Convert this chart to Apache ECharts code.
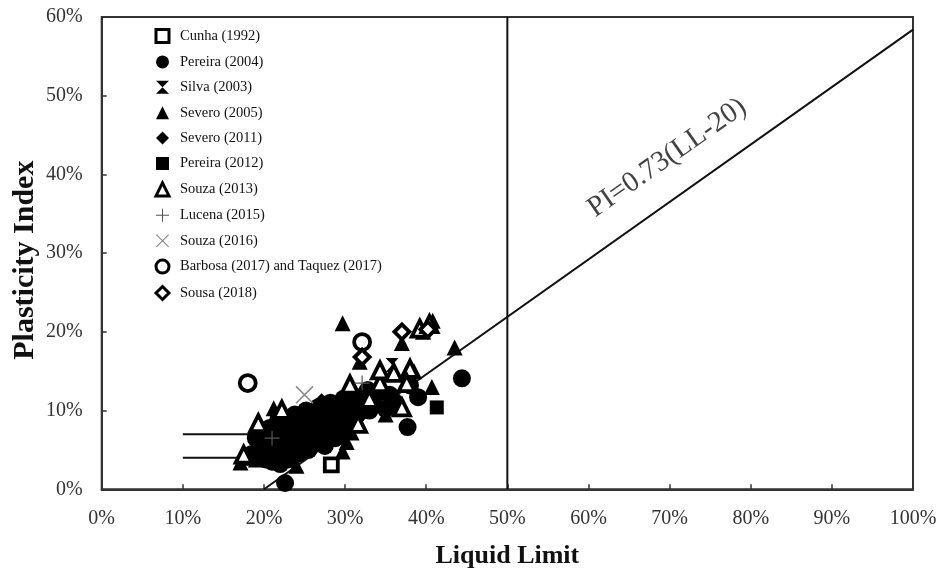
<!DOCTYPE html>
<html><head><meta charset="utf-8">
<script src="https://cdn.jsdelivr.net/npm/echarts@6/dist/echarts.min.js"></script>
<style>html,body{margin:0;padding:0;background:#fff}#c{width:941px;height:573px}</style>
</head><body><div id="c"></div>
<script>
// ---- data (x = Liquid Limit %, y = Plasticity Index %) ----
const xTicks = [0,10,20,30,40,50,60,70,80,90,100];
const yTicks = [0,10,20,30,40,50,60];
const seriesNames = ['Cunha (1992)','Pereira (2004)','Silva (2003)','Severo (2005)','Severo (2011)','Pereira (2012)','Souza (2013)','Lucena (2015)','Souza (2016)','Barbosa (2017) and Taquez (2017)','Sousa (2018)'];
const cunha1992 = [[28.3,3.1]];
const pereira2004 = [[22.6,0.8],[44.4,14.1],[37.7,7.9],[39.0,11.7],[35.0,10.2],[33.5,11.0],[32.5,11.8],[31.0,10.5],[30.0,9.8],[29.2,8.5],[28.5,8.0],[27.8,9.5],[27.0,7.0],[26.5,6.0],[25.5,5.0],[25.0,9.0],[24.5,7.5],[24.0,6.5],[23.5,8.5],[23.0,5.5],[22.5,6.8],[22.0,4.5],[20.7,7.8],[21.0,3.5],[20.5,5.5],[20.0,4.8],[26.0,8.5],[28.0,10.2],[29.5,7.2],[30.5,8.3],[31.5,9.5],[34.0,12.2],[36.0,11.2],[38.0,13.2],[33.0,10.0],[25.2,10.0],[24.2,4.5],[21.8,9.0],[24.8,8.8],[26.8,10.5],[19.5,5.0],[23.0,3.8],[27.5,5.5],[28.8,6.5],[19.0,6.5],[18.5,4.5],[20.0,7.0],[21.5,5.8],[22.8,7.5],[23.8,9.5],[25.8,7.0],[26.5,9.5],[28.2,11.0],[29.8,11.5],[31.2,11.8],[30.2,10.8],[27.2,8.2],[22.0,3.2],[20.2,3.8],[32.8,12.6],[35.5,12.0]];
const silva2003 = [[35.8,15.8],[22.0,5.0]];
const severo2005 = [[29.7,21.1],[43.5,18.0],[37.0,18.6],[31.8,16.2],[40.7,13.0],[30.2,6.0],[29.7,4.8],[17.1,3.4],[18.0,4.0],[19.0,3.8],[38.5,15.0],[40.8,21.4],[39.6,20.0],[35.0,9.5],[30.8,7.2],[21.2,10.3],[24.0,3.0]];
const severo2011 = [[27.1,11.3],[21.0,5.2],[23.5,7.0],[29.0,9.0],[26.0,6.5],[32.0,10.8]];
const pereira2012 = [[41.3,10.4],[24.5,6.0]];
const souza2013 = [[19.3,8.4],[22.2,10.1],[30.6,13.3],[34.3,13.5],[34.3,15.1],[38.0,15.3],[37.6,13.5],[37.0,10.4],[31.6,8.3],[39.2,20.4],[40.4,21.0],[17.5,4.4],[33.0,11.5],[36.0,14.8]];
const lucena2015 = [[32.1,13.5],[21.0,6.5]];
const souza2016 = [[25.0,12.0]];
const barbosaTaquez2017 = [[18.0,13.5],[32.1,18.7]];
const sousa2018 = [[37.0,20.0],[32.1,16.8],[40.2,20.3]];
const aLine = [[20,0],[100,58.4]];
const aLineLabel = 'PI=0.73(LL-20)';
const aLineLabelAt = [[69.7,42.1]];
const llLine = [[50,0],[50,60]];
const clmlLow = [[10,4],[25.5,4]];
const clmlHigh = [[10,7],[29.6,7]];

// ---- chart ----
const serif = 'Liberation Serif';
const K = '#000';
const hollowIdx = [0,6,9,10];
function hollow(sym, size){ return {symbol: sym, symbolSize: size, itemStyle:{color:'#fff', borderColor:K, borderWidth:3.8, opacity:1}}; }
function filled(sym, size){ return {symbol: sym, symbolSize: size, itemStyle:{color:K, opacity:1}}; }
const styles = [
  hollow('rect',13),
  filled('circle',18),
  {symbol:'path://M0,0L10,0L0,10L10,10Z', symbolSize:[13,14], itemStyle:{color:K, opacity:1}},
  filled('triangle',16),
  filled('diamond',14),
  filled('rect',14),
  hollow('triangle',16),
  {symbol:'path://M0,4.6H10V5.4H0Z M4.6,0H5.4V10H4.6Z', symbolSize:15, itemStyle:{color:'#555', opacity:1}},
  {symbol:'path://M0,0.6L0.6,0L10,9.4L9.4,10Z M9.4,0L10,0.6L0.6,10L0,9.4Z', symbolSize:18, itemStyle:{color:'#888', opacity:1}},
  hollow('circle',16),
  hollow('diamond',15)
];
const dataSets = [cunha1992,pereira2004,silva2003,severo2005,severo2011,pereira2012,souza2013,lucena2015,souza2016,barbosaTaquez2017,sousa2018];
const lineStyle = {color:'#111', width:2};
const series = [
  {type:'line', data:aLine, symbol:'none', lineStyle, silent:true, z:1},
  {type:'line', data:llLine, symbol:'none', lineStyle, silent:true, z:1},
  {type:'line', data:clmlLow, symbol:'none', lineStyle, silent:true, z:1},
  {type:'line', data:clmlHigh, symbol:'none', lineStyle, silent:true, z:1},
  {type:'scatter', data:aLineLabelAt, symbolSize:0, silent:true, z:1,
   label:{show:true, position:'inside', formatter:aLineLabel, rotate:35, fontFamily:serif, fontSize:29, color:'#111'}}
];
dataSets.forEach((d,i)=>{
  series.push(Object.assign({type:'scatter', name:seriesNames[i], data:d, z:3}, styles[i]));
});
const legendData = seriesNames.map((n,i)=> hollowIdx.includes(i)
  ? {name:n, itemStyle:{color:'#fff', borderColor:K, borderWidth:3}} : {name:n});
const chart = echarts.init(document.getElementById('c'), null, {renderer:'canvas'});
chart.setOption({
  animation:false,
  backgroundColor:'#fff',
  grid:{left:101.7, right:28, top:17, bottom:83.7, show:true, borderColor:'#333', borderWidth:2, backgroundColor:'transparent', outerBoundsMode:'none', containLabel:false},
  legend:{data:legendData, orient:'vertical', left:149.5, top:23, itemWidth:13, itemHeight:13, itemGap:10.4,
    textStyle:{fontFamily:serif, fontSize:14.5, color:'#111', padding:[0,0,0,6]}, selectedMode:false},
  xAxis:{type:'value', min:xTicks[0], max:xTicks[xTicks.length-1], interval:10,
    name:'Liquid Limit', nameLocation:'middle', nameGap:54, nameMoveOverlap:false,
    nameTextStyle:{fontFamily:serif, fontSize:26, fontWeight:'bold', color:'#111'},
    axisLine:{lineStyle:{color:'#333', width:2}},
    axisTick:{show:true, inside:true, length:5, lineStyle:{color:'#333', width:1.5}},
    axisLabel:{margin:19, formatter:'{value}%', fontFamily:serif, fontSize:20, color:'#333'},
    splitLine:{show:false}},
  yAxis:{type:'value', min:yTicks[0], max:yTicks[yTicks.length-1], interval:10,
    name:'Plasticity Index', nameLocation:'middle', nameGap:61, nameMoveOverlap:false,
    nameTextStyle:{fontFamily:serif, fontSize:30, fontWeight:'bold', color:'#111', padding:[0,14,0,0]},
    axisLine:{lineStyle:{color:'#333', width:2}},
    axisTick:{show:true, inside:true, length:5, lineStyle:{color:'#333', width:1.5}},
    axisLabel:{margin:19, formatter:'{value}%', fontFamily:serif, fontSize:20, color:'#333'},
    splitLine:{show:false}},
  series
});
</script></body></html>
